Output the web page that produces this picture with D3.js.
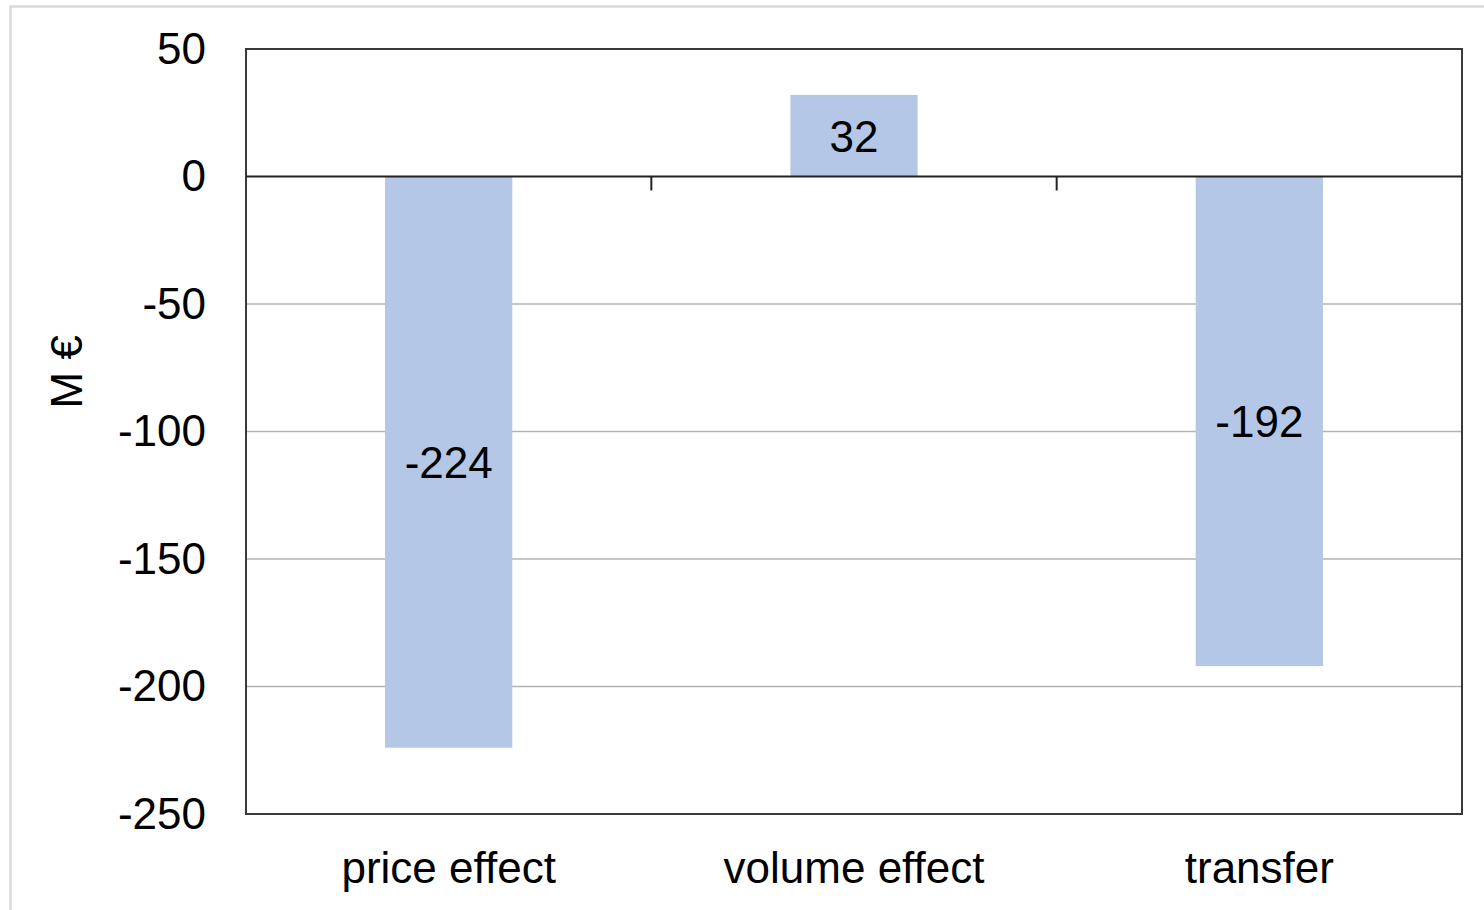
<!DOCTYPE html>
<html>
<head>
<meta charset="utf-8">
<script src="https://cdn.jsdelivr.net/npm/d3@7/dist/d3.min.js"></script>
<style>
  html, body { margin: 0; padding: 0; background: #fff; }
  svg { display: block; }
  text { font-family: "Liberation Sans", Arial, sans-serif; fill: #000; }
</style>
</head>
<body>
<svg id="chart" width="1484" height="910"></svg>
<script>
// Decomposition of the change, in million euro
const categories = ["price effect", "volume effect", "transfer"];
const values = [-224, 32, -192];
const yTicks = [50, 0, -50, -100, -150, -200, -250];
const yTitle = "M €";

const W = 1484, H = 910;
const plot = { left: 246, right: 1462, top: 49, bottom: 814 };
const FONT = 44;

const svg = d3.select("#chart");

// outer chart-area frame (clipped at right and bottom)
svg.append("rect")
  .attr("x", 10.5).attr("y", 6.5)
  .attr("width", W + 20).attr("height", H + 20)
  .attr("fill", "#fff")
  .attr("stroke", "#d9d9d9").attr("stroke-width", 2.5);

const x = d3.scaleBand()
  .domain(categories)
  .range([plot.left, plot.right])
  .paddingInner(0.686)
  .paddingOuter(0.343);

const y = d3.scaleLinear()
  .domain([-250, 50])
  .range([plot.bottom, plot.top]);

// plain hyphen-minus number format
const fmt = d => String(d);

// horizontal gridlines
svg.append("g")
  .selectAll("line")
  .data(yTicks.filter(t => t !== 50 && t !== -250 && t !== 0))
  .join("line")
  .attr("x1", plot.left).attr("x2", plot.right)
  .attr("y1", d => y(d)).attr("y2", d => y(d))
  .attr("stroke", "#b3b3b3").attr("stroke-width", 1.5);

// bars
svg.append("g")
  .selectAll("rect")
  .data(values)
  .join("rect")
  .attr("x", (d, i) => x(categories[i]))
  .attr("width", x.bandwidth())
  .attr("y", d => y(Math.max(0, d)))
  .attr("height", d => Math.abs(y(d) - y(0)))
  .attr("fill", "#b4c7e7");

// plot frame
svg.append("rect")
  .attr("x", plot.left).attr("y", plot.top)
  .attr("width", plot.right - plot.left)
  .attr("height", plot.bottom - plot.top)
  .attr("fill", "none")
  .attr("stroke", "#3a3a3a").attr("stroke-width", 2);

// zero baseline with category separators
svg.append("line")
  .attr("x1", plot.left).attr("x2", plot.right)
  .attr("y1", y(0)).attr("y2", y(0))
  .attr("stroke", "#222").attr("stroke-width", 2);

const step = x.step();
const separators = d3.range(1, categories.length).map(i => x(categories[i]) - x.paddingInner() * step / 2);
svg.append("g")
  .selectAll("line")
  .data(separators)
  .join("line")
  .attr("x1", d => d).attr("x2", d => d)
  .attr("y1", y(0)).attr("y2", y(0) + 14)
  .attr("stroke", "#222").attr("stroke-width", 2);

// y-axis labels
const yAxis = d3.axisLeft(y).tickValues(yTicks).tickFormat(fmt).tickSize(0).tickPadding(40);
const gy = svg.append("g")
  .attr("transform", `translate(${plot.left},0)`)
  .call(yAxis);
gy.select(".domain").remove();
gy.selectAll("text")
  .attr("font-family", "Liberation Sans, Arial, sans-serif")
  .attr("font-size", FONT)
  .attr("fill", "#000");

// category labels
const xAxis = d3.axisBottom(x).tickSize(0).tickPadding(38);
const gx = svg.append("g")
  .attr("transform", `translate(0,${plot.bottom})`)
  .call(xAxis);
gx.select(".domain").remove();
gx.selectAll("text")
  .attr("font-family", "Liberation Sans, Arial, sans-serif")
  .attr("font-size", FONT)
  .attr("fill", "#000");

// value labels centred inside bars
svg.append("g")
  .selectAll("text")
  .data(values)
  .join("text")
  .attr("x", (d, i) => x(categories[i]) + x.bandwidth() / 2)
  .attr("y", d => (y(d) + y(0)) / 2)
  .attr("dy", "0.36em")
  .attr("text-anchor", "middle")
  .attr("font-size", FONT)
  .text(fmt);

// y-axis title
svg.append("text")
  .attr("transform", `translate(82,${(y(-50) + y(-100)) / 2 + 4}) rotate(-90)`)
  .attr("text-anchor", "middle")
  .attr("font-size", FONT)
  .text(yTitle);
</script>
</body>
</html>
